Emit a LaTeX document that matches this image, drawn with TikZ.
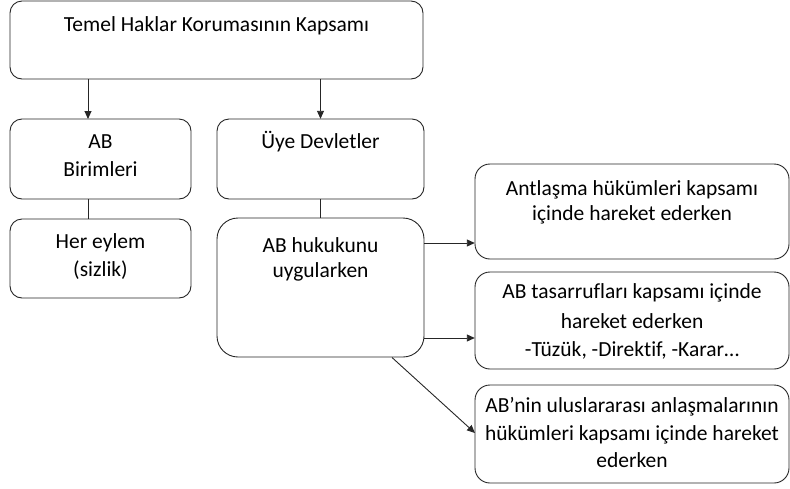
\documentclass[tikz,border=0pt]{standalone}
\usepackage{fontspec}
\setmainfont{Carlito}[Ligatures={NoCommon}]
\usetikzlibrary{arrows.meta,calc}
\tikzset{
  box/.style={draw=black!85, line width=0.9pt, rounded corners=#1, inner sep=0pt},
  box/.default=12pt,
  txt/.style={font=\fontsize{21.5}{28}\selectfont, align=center, inner sep=0pt, anchor=base, text=black},
  arr/.style={draw=black!85, line width=0.9pt, -{Triangle[length=8pt,width=7pt]}},
  ln/.style={draw=black!85, line width=0.9pt}
}
\begin{document}
\begin{tikzpicture}[x=1pt,y=-1pt]
\useasboundingbox (0,0) rectangle (790,488);
% boxes
\draw[box] (10,1) rectangle (423,79);
\node (top) at (216.5,40) [minimum width=413pt, minimum height=78pt] {};
\draw[box] (10,119) rectangle (191,199);
\node (ab) at (100.5,159) [minimum width=181pt, minimum height=80pt] {};
\draw[box] (217,119) rectangle (424,199);
\node (uye) at (320.5,159) [minimum width=207pt, minimum height=80pt] {};
\draw[box] (10,219) rectangle (191,298);
\node (her) at (100.5,258.5) [minimum width=181pt, minimum height=79pt] {};
\draw[box=21pt] (217,218) rectangle (424,357);
\node (huk) at (320.5,287.5) [minimum width=207pt, minimum height=139pt] {};
\draw[box=15pt] (475,164) rectangle (789,259);
\node (ant) at (632,211.5) [minimum width=314pt, minimum height=95pt] {};
\draw[box=15pt] (475,272) rectangle (789,369);
\node (tas) at (632,320.5) [minimum width=314pt, minimum height=97pt] {};
\draw[box=15pt] (475,385) rectangle (789,483);
\node (int) at (632,434) [minimum width=314pt, minimum height=98pt] {};
% texts
\node[txt] (ttop) at (216.5,31) {Temel Haklar Korumasının Kapsamı};
\node[txt] (tab1) at (100.5,148) {AB};
\node[txt] (tab2) at (100.5,176) {Birimleri};
\node[txt] (tuye) at (320.5,148) {Üye Devletler};
\node[txt] (ther1) at (100.5,248) {Her eylem};
\node[txt] (ther2) at (100.5,276) {(sizlik)};
\node[txt] (thuk1) at (320.5,252) {AB hukukunu};
\node[txt] (thuk2) at (320.5,277) {uygularken};
\node[txt] (tant1) at (632,195) {Antlaşma hükümleri kapsamı};
\node[txt] (tant2) at (632,220) {içinde hareket ederken};
\node[txt] (ttas1) at (632,298) {AB tasarrufları kapsamı içinde};
\node[txt] (ttas2) at (632,328) {hareket ederken};
\node[txt] (ttas3) at (632,356) {-Tüzük, -Direktif, -Karar…};
\node[txt] (tint1) at (632,412) {AB’nin uluslararası anlaşmalarının};
\node[txt] (tint2) at (632,440) {hükümleri kapsamı içinde hareket};
\node[txt] (tint3) at (632,467) {ederken};
% connectors
\coordinate (abin) at (88,119);
\draw[arr] (top.south -| abin) -- (abin);
\draw[arr] (top.south -| uye.north) -- (uye.north);
\draw[ln] (ab.south -| abin) -- (her.north -| abin);
\draw[ln] (uye.south) -- (huk.north);
\coordinate (h1) at (424,243);
\coordinate (h2) at (424,338);
\coordinate (h3) at (392,357.5);
\coordinate (i3) at (475,433);
\draw[arr] (h1) -- (ant.west |- h1);
\draw[arr] (h2) -- (tas.west |- h2);
\draw[arr] (h3) -- (i3);
\end{tikzpicture}
\end{document}
